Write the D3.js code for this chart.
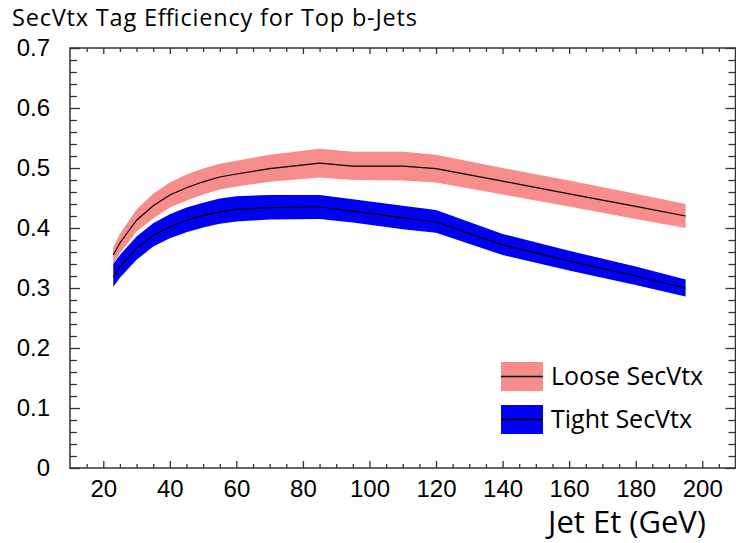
<!DOCTYPE html>
<html>
<head>
<meta charset="utf-8">
<script src="https://cdn.jsdelivr.net/npm/d3@7"></script>
<style>
  html, body { margin: 0; padding: 0; background: #fff; }
  svg { display: block; font-family: "Open Sans", "Noto Sans", sans-serif; }
</style>
</head>
<body>
<svg id="chart" width="736" height="543"></svg>
<script>
// Jet Et bin positions (GeV)
const jetEt = [23, 25, 30, 35, 40, 45, 50, 55, 60, 70, 85, 95, 110, 120, 140, 160, 180, 195];

// Loose SecVtx efficiency: central value and band edges
const looseMid = [0.355, 0.375, 0.413, 0.437, 0.455, 0.467, 0.477, 0.485, 0.490, 0.499, 0.508, 0.503, 0.503, 0.499, 0.478, 0.457, 0.436, 0.420];
const looseLo  = [0.340, 0.358, 0.394, 0.416, 0.434, 0.446, 0.456, 0.464, 0.469, 0.477, 0.484, 0.480, 0.479, 0.476, 0.456, 0.436, 0.415, 0.400];
const looseHi  = [0.368, 0.390, 0.431, 0.457, 0.476, 0.489, 0.499, 0.507, 0.512, 0.522, 0.532, 0.527, 0.527, 0.522, 0.500, 0.479, 0.457, 0.440];

// Tight SecVtx efficiency: central value and band edges
const tightMid = [0.318, 0.335, 0.366, 0.388, 0.402, 0.413, 0.421, 0.427, 0.431, 0.434, 0.435, 0.428, 0.417, 0.410, 0.372, 0.345, 0.320, 0.300];
const tightLo  = [0.302, 0.317, 0.347, 0.369, 0.383, 0.393, 0.401, 0.407, 0.411, 0.414, 0.415, 0.409, 0.398, 0.392, 0.355, 0.329, 0.305, 0.286];
const tightHi  = [0.340, 0.355, 0.386, 0.408, 0.423, 0.434, 0.442, 0.449, 0.453, 0.455, 0.455, 0.448, 0.437, 0.430, 0.390, 0.362, 0.336, 0.314];

// Axis ticks
const xMajorTicks = [20, 40, 60, 80, 100, 120, 140, 160, 180, 200];
const yMajorTicks = [0, 0.1, 0.2, 0.3, 0.4, 0.5, 0.6, 0.7];

const legendLabels = ["Loose SecVtx", "Tight SecVtx"];
const seriesColors = ["#f88c8a", "#0000f5"];

const svg = d3.select("#chart");
const margin = { left: 70, right: 0.5, top: 48, bottom: 75 };
const W = 736, H = 543;

const x = d3.scaleLinear().domain([10, 210]).range([margin.left, W - margin.right]);
const y = d3.scaleLinear().domain([0, 0.7]).range([H - margin.bottom, margin.top]);

const xMinor = d3.range(15, 210, 5).filter(v => v % 20 !== 0);
const yMinor = d3.range(0.02, 0.7, 0.02).map(v => +v.toFixed(2)).filter(v => Math.abs(v * 10 - Math.round(v * 10)) > 1e-6);

// Bands and central lines
const series = [
  { mid: looseMid, lo: looseLo, hi: looseHi, color: seriesColors[0] },
  { mid: tightMid, lo: tightLo, hi: tightHi, color: seriesColors[1] }
];

const area = d3.area()
  .x(d => x(d.x))
  .y0(d => y(d.lo))
  .y1(d => y(d.hi));
const line = d3.line()
  .x(d => x(d.x))
  .y(d => y(d.mid));

series.forEach(s => {
  const pts = jetEt.map((xv, i) => ({ x: xv, mid: s.mid[i], lo: s.lo[i], hi: s.hi[i] }));
  svg.append("path").datum(pts).attr("d", area).attr("fill", s.color);
  svg.append("path").datum(pts).attr("d", line)
    .attr("fill", "none").attr("stroke", "#000").attr("stroke-width", 1.2);
});

// Frame with inward ticks on all four sides
const axisColor = "#333";
function styleAxis(g) {
  g.select(".domain").remove();
  g.selectAll("line").attr("stroke", axisColor).attr("stroke-width", 1.3);
  g.selectAll("text").attr("fill", "#000").attr("font-size", 24);
}

const fmtY = d => d === 0 ? "0" : d3.format(".1f")(d);

// bottom
svg.append("g").attr("transform", `translate(0,${y(0)})`)
  .call(d3.axisBottom(x).tickValues(xMajorTicks).tickSizeInner(-7).tickSizeOuter(0).tickPadding(12).tickFormat(d3.format("d")))
  .call(styleAxis);
svg.append("g").attr("transform", `translate(0,${y(0)})`)
  .call(d3.axisBottom(x).tickValues(xMinor).tickSizeInner(-4).tickSizeOuter(0).tickFormat(""))
  .call(styleAxis);
// top
svg.append("g").attr("transform", `translate(0,${y(0.7)})`)
  .call(d3.axisTop(x).tickValues(xMajorTicks).tickSizeInner(-6).tickSizeOuter(0).tickFormat(""))
  .call(styleAxis);
svg.append("g").attr("transform", `translate(0,${y(0.7)})`)
  .call(d3.axisTop(x).tickValues(xMinor).tickSizeInner(-4).tickSizeOuter(0).tickFormat(""))
  .call(styleAxis);
// left
svg.append("g").attr("transform", `translate(${x(10)},0)`)
  .call(d3.axisLeft(y).tickValues(yMajorTicks).tickSizeInner(-10).tickSizeOuter(0).tickPadding(20).tickFormat(fmtY))
  .call(styleAxis);
svg.append("g").attr("transform", `translate(${x(10)},0)`)
  .call(d3.axisLeft(y).tickValues(yMinor).tickSizeInner(-7).tickSizeOuter(0).tickFormat(""))
  .call(styleAxis);
// right
svg.append("g").attr("transform", `translate(${x(210)},0)`)
  .call(d3.axisRight(y).tickValues(yMajorTicks).tickSizeInner(-10).tickSizeOuter(0).tickFormat(""))
  .call(styleAxis);
svg.append("g").attr("transform", `translate(${x(210)},0)`)
  .call(d3.axisRight(y).tickValues(yMinor).tickSizeInner(-7).tickSizeOuter(0).tickFormat(""))
  .call(styleAxis);

svg.append("rect")
  .attr("x", x(10)).attr("y", y(0.7))
  .attr("width", x(210) - x(10)).attr("height", y(0) - y(0.7))
  .attr("fill", "none").attr("stroke", axisColor).attr("stroke-width", 1.5);

// Title and axis label
svg.append("text").attr("x", 12).attr("y", 26)
  .attr("font-size", 23.5).attr("fill", "#000")
  .attr("textLength", 405).attr("lengthAdjust", "spacing")
  .text("SecVtx Tag Efficiency for Top b-Jets");

svg.append("text").attr("x", 706).attr("y", 533)
  .attr("text-anchor", "end").attr("font-size", 31).attr("fill", "#000")
  .text("Jet Et (GeV)");

// Legend
const legend = svg.append("g");
const legendRows = [{ top: 362, label: legendLabels[0], color: seriesColors[0] },
                    { top: 405, label: legendLabels[1], color: seriesColors[1] }];
legendRows.forEach(r => {
  legend.append("rect").attr("x", 501).attr("y", r.top).attr("width", 42).attr("height", 29).attr("fill", r.color);
  legend.append("line").attr("x1", 501).attr("x2", 543)
    .attr("y1", r.top + 14.5).attr("y2", r.top + 14.5)
    .attr("stroke", "#000").attr("stroke-width", 1.3);
  legend.append("text").attr("x", 551).attr("y", r.top + 23)
    .attr("font-size", 25).attr("fill", "#000").text(r.label);
});
</script>
</body>
</html>
